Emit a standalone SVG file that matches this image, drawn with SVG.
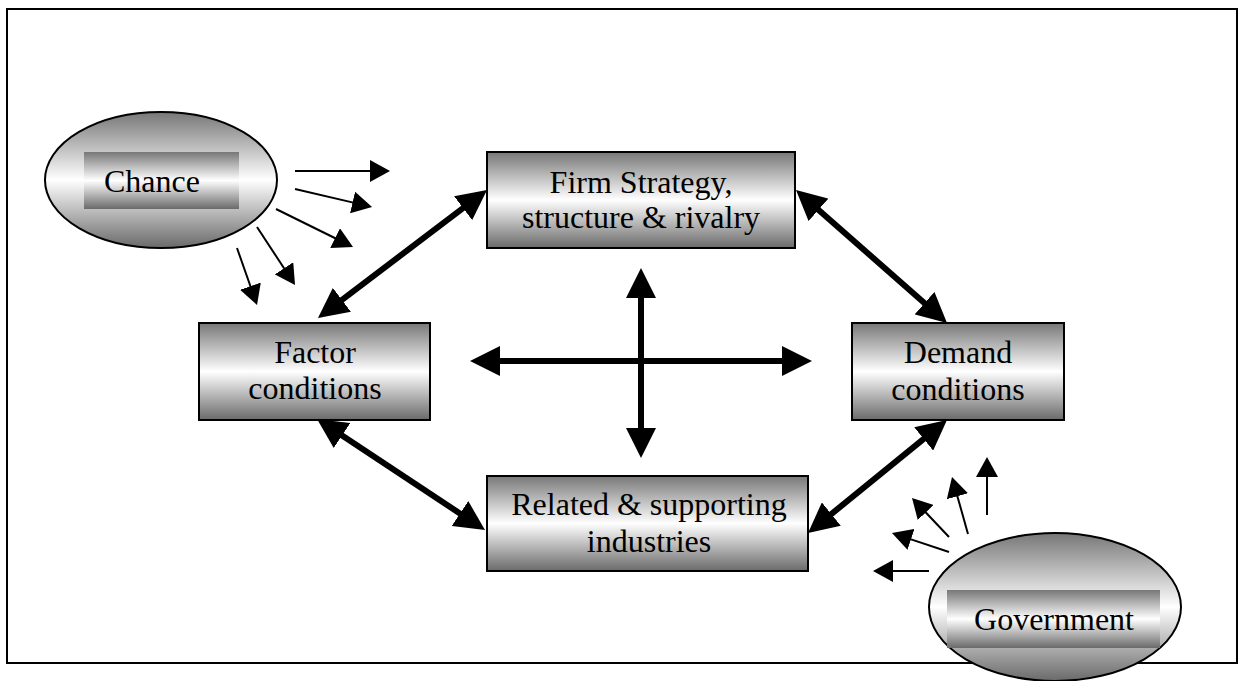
<svg xmlns="http://www.w3.org/2000/svg" width="1243" height="681" viewBox="0 0 1243 681">
<defs>
<linearGradient id="g" x1="0" y1="0" x2="0" y2="1">
<stop offset="0" stop-color="#777777"/>
<stop offset="0.5" stop-color="#ffffff"/>
<stop offset="1" stop-color="#6a6a6a"/>
</linearGradient>
<marker id="thin" markerUnits="userSpaceOnUse" markerWidth="20" markerHeight="22" refX="3" refY="11" orient="auto-start-reverse">
<path d="M0,0 L20,11 L0,22 z" fill="#000"/>
</marker>
<marker id="thick" markerUnits="userSpaceOnUse" markerWidth="30" markerHeight="30" refX="4" refY="15" orient="auto-start-reverse">
<path d="M0,0 L30,15 L0,30 z" fill="#000"/>
</marker>
</defs>
<style>
.box{fill:url(#g);stroke:#000;stroke-width:2}
.ell{fill:url(#g);stroke:#000;stroke-width:2}
.inner{fill:url(#g);stroke:none}
.t{font-family:"Liberation Serif","Times New Roman",serif;font-size:32px;fill:#000;text-anchor:middle}
.thinl{stroke:#000;stroke-width:2;fill:none;marker-end:url(#thin)}
.thickl{stroke:#000;stroke-width:6;fill:none;marker-start:url(#thick);marker-end:url(#thick)}
</style>
<rect width="1243" height="681" fill="#fff"/>
<rect x="7" y="9" width="1230" height="654" fill="none" stroke="#000" stroke-width="2"/>

<g id="connectors">
<line class="thickl" x1="338.7" y1="302.3" x2="466.3" y2="205.7"/>
<line class="thickl" x1="815.5" y1="207.2" x2="927.5" y2="305.8"/>
<line class="thickl" x1="338.7" y1="433.3" x2="463.3" y2="515.7"/>
<line class="thickl" x1="828.2" y1="516.6" x2="926.8" y2="436.4"/>
<line class="thickl" x1="496" y1="361" x2="786" y2="361"/>
<line class="thickl" x1="641" y1="294" x2="641" y2="432"/>
<line class="thinl" x1="295" y1="171" x2="373" y2="171"/>
<line class="thinl" x1="295" y1="189" x2="355.5" y2="203.1"/>
<line class="thinl" x1="276" y1="209" x2="337.8" y2="239.5"/>
<line class="thinl" x1="257" y1="227" x2="285.7" y2="270.8"/>
<line class="thinl" x1="237" y1="248" x2="251.4" y2="289"/>
<line class="thinl" x1="929" y1="571" x2="890" y2="571"/>
<line class="thinl" x1="949" y1="552" x2="908.1" y2="538.4"/>
<line class="thinl" x1="949" y1="537" x2="923.7" y2="510.3"/>
<line class="thinl" x1="968" y1="534" x2="956.6" y2="493.4"/>
<line class="thinl" x1="987" y1="515" x2="987" y2="474"/>
</g>

<g id="chance">
<ellipse class="ell" cx="161" cy="180" rx="116" ry="68"/>
<rect class="inner" x="84" y="152" width="155" height="57"/>
<text class="t" x="104" y="192" style="text-anchor:start">Chance</text>
</g>

<g id="firm">
<rect class="box" x="487" y="152" width="308" height="96"/>
<text class="t" x="641" y="193">Firm Strategy,</text>
<text class="t" x="641" y="228">structure &amp; rivalry</text>
</g>

<g id="factor">
<rect class="box" x="199" y="323" width="231" height="97"/>
<text class="t" x="315" y="363">Factor</text>
<text class="t" x="315" y="399">conditions</text>
</g>

<g id="demand">
<rect class="box" x="852" y="323" width="212" height="97"/>
<text class="t" x="958" y="363">Demand</text>
<text class="t" x="958" y="400">conditions</text>
</g>

<g id="related">
<rect class="box" x="487" y="476" width="321" height="95"/>
<text class="t" x="649" y="515">Related &amp; supporting</text>
<text class="t" x="649" y="552">industries</text>
</g>

<g id="government">
<ellipse class="ell" cx="1055" cy="607" rx="126" ry="74"/>
<rect class="inner" x="947" y="590" width="213" height="58"/>
<text class="t" x="1054" y="630">Government</text>
</g>
</svg>
